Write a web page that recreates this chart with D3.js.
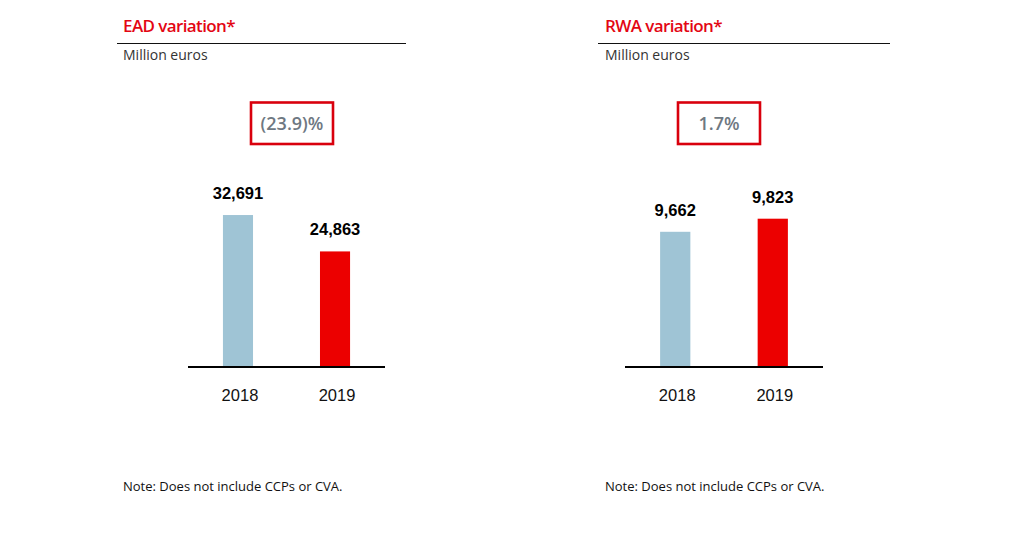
<!DOCTYPE html>
<html><head><meta charset="utf-8">
<script src="https://cdn.jsdelivr.net/npm/d3@7"></script>
<style>body{margin:0;background:#fff}svg{display:block}</style>
</head><body>
<div id="chart"></div>
<script>
const categories = ["2018", "2019"];
const eadValues = [32691, 24863];
const rwaValues = [9662, 9823];
const eadDomain = [0, 35000];
const rwaDomain = [8000, 10000];
const titles = ["EAD variation*", "RWA variation*"];
const variations = ["(23.9)%", "1.7%"];
const unitLabel = "Million euros";
const noteText = "Note: Does not include CCPs or CVA.";
const barColors = ["#9fc4d5", "#ec0000"];

const W = 1021, H = 552;
const svg = d3.select("#chart").append("svg").attr("width", W).attr("height", H);

const panels = [
  {x0: 117, x1: 406, textX: 123, boxX: 251, plotX: [188, 385], values: eadValues, domain: eadDomain, title: titles[0], variation: variations[0]},
  {x0: 598, x1: 890, textX: 605, boxX: 678, plotX: [625, 823], values: rwaValues, domain: rwaDomain, title: titles[1], variation: variations[1]}
];

const baseY = 367, plotH = 162.7;
const labelFont = "'Liberation Sans', Arial, sans-serif";
const uiFont = "'Open Sans', 'Noto Sans', sans-serif";

panels.forEach(p => {
  const g = svg.append("g");
  g.append("text").attr("x", p.textX).attr("y", 32).attr("fill", "#e30613")
    .style("font-family", uiFont).style("font-size", "17px").style("font-weight", "600")
    .style("letter-spacing", "-0.6px").text(p.title);
  g.append("line").attr("x1", p.x0).attr("x2", p.x1).attr("y1", 43.5).attr("y2", 43.5)
    .attr("stroke", "#111").attr("stroke-width", 1.2);
  g.append("text").attr("x", p.textX).attr("y", 60).attr("fill", "#333")
    .style("font-family", uiFont).style("font-size", "14px").text(unitLabel);

  g.append("rect").attr("x", p.boxX).attr("y", 102.5).attr("width", 82).attr("height", 41.5)
    .attr("fill", "none").attr("stroke", "#d9000d").attr("stroke-width", 2.6);
  g.append("text").attr("x", p.boxX + 41).attr("y", 130).attr("text-anchor", "middle")
    .attr("fill", "#6e7882").style("font-family", uiFont).style("font-size", "18px")
    .style("font-weight", "600").text(p.variation);

  const x = d3.scaleBand().domain(categories).range(p.plotX).paddingInner(0.69).paddingOuter(0.36);
  const y = d3.scaleLinear().domain(p.domain).range([baseY, baseY - plotH]);

  g.selectAll("rect.bar").data(p.values).join("rect").attr("class", "bar")
    .attr("x", (d, i) => x(categories[i])).attr("width", x.bandwidth())
    .attr("y", d => y(d)).attr("height", d => baseY - y(d))
    .attr("fill", (d, i) => barColors[i]);

  g.selectAll("text.val").data(p.values).join("text").attr("class", "val")
    .attr("x", (d, i) => x(categories[i]) + x.bandwidth() / 2)
    .attr("y", d => y(d) - 16).attr("text-anchor", "middle").attr("fill", "#000")
    .style("font-family", labelFont).style("font-size", "16.5px").style("font-weight", "bold")
    .text(d => d3.format(",")(d));

  const axis = d3.axisBottom(x).tickSize(0).tickPadding(0);
  const ax = g.append("g").attr("transform", `translate(0,${baseY})`).call(axis);
  ax.select(".domain").remove();
  ax.append("line").attr("x1", p.plotX[0]).attr("x2", p.plotX[1]).attr("y1", 0).attr("y2", 0)
    .attr("stroke", "#000").attr("stroke-width", 2);
  ax.selectAll(".tick text").attr("dy", 0).attr("y", 34).attr("dx", 2).attr("fill", "#111")
    .style("font-family", labelFont).style("font-size", "16.5px");

  g.append("text").attr("x", p.textX).attr("y", 491).attr("fill", "#111")
    .style("font-family", uiFont).style("font-size", "13px").text(noteText);
});
</script>
</body></html>
